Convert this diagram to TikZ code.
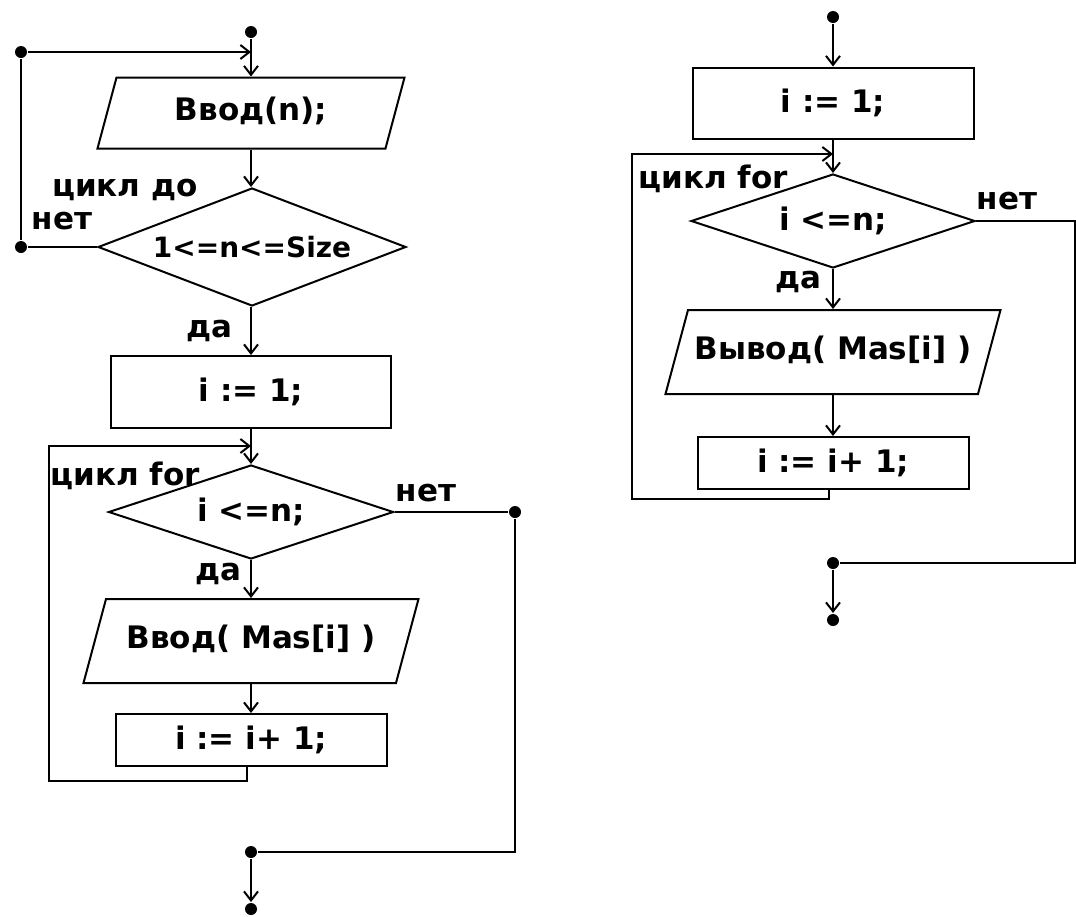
\documentclass[tikz,border=0pt]{standalone}
\usepackage{fontspec}
\setmainfont{DejaVu Sans}
\usetikzlibrary{shapes.geometric, arrows, arrows.meta}

\begin{document}
\begin{tikzpicture}[x = 1pt, y = -1pt, line width = 2pt,
        >={Straight Barb[length = 9pt, width = 14pt]},
        every node/.style = {font = \fontsize{31}{34}\selectfont\bfseries},
        box/.style = {shape = rectangle, draw = black, inner sep = 0pt},
        io/.style = {shape = trapezium, trapezium left angle = 75, trapezium right angle = 105,
            trapezium stretches body, draw = black, inner xsep = 0pt,
            text height = 23pt, text depth = 8pt},
        cond/.style = {shape = diamond, draw = black, inner sep = 0pt},
        dot/.style = {shape = circle, fill = black, inner sep = 0pt, minimum size = 12pt}]
            \useasboundingbox (0, 0) rectangle (1076, 916);

            % input loop
            \node [dot] (start1) at (251, 32) {};
            \node [io, minimum width = 307pt, inner ysep = 20pt] (readn) at (251, 113) {Ввод(n);};
            \node [cond, aspect = 2.6, minimum width = 308pt, minimum height = 118pt,
                font = \fontsize{28}{30}\selectfont\bfseries] (check) at (252, 247) {1<=n<=Size};
            \node [dot] (back0) at (21, 247) {};
            \node [dot] (back0t) at (21, 52) {};
            \coordinate (join0) at (251, 52);
            \node (untillbl) at (125, 190) {цикл до};
            \node (nolbl0) at (62, 221) {нет};
            \node (yes0) at (209, 331) {да};

            % for loop, reading
            \node [box, minimum width = 280pt, minimum height = 72pt] (init1) at (251, 392) {i := 1;};
            \coordinate (join1) at (251, 446);
            \node [cond, aspect = 3, minimum width = 285pt, minimum height = 94pt] (loop1) at (251, 512) {i <=n;};
            \node (forlbl1) at (125, 476) {цикл for};
            \node (nolbl1) at (426, 493) {нет};
            \node (yes1) at (218, 574) {да};
            \node [io, minimum width = 335pt, inner ysep = 26.5pt] (readmas) at (251, 641) {Ввод( Mas[i] )};
            \node [box, minimum width = 271pt, minimum height = 52pt] (inc1) at (251, 740) {i := i+ 1;};
            \coordinate (back1b) at (49, 781);
            \coordinate (back1t) at (49, 446);
            \node [dot] (exit1) at (515, 512) {};
            \node [dot] (merge1) at (251, 852) {};
            \node [dot] (end1) at (251, 909) {};

            % for loop, writing
            \node [dot] (start2) at (833, 17) {};
            \node [box, minimum width = 281pt, minimum height = 71pt] (init2) at (833, 103) {i := 1;};
            \coordinate (join2) at (833, 154);
            \node [cond, aspect = 3, minimum width = 284pt, minimum height = 94pt] (loop2) at (833, 221) {i <=n;};
            \node (forlbl2) at (713, 179) {цикл for};
            \node (nolbl2) at (1007, 201) {нет};
            \node (yes2) at (798, 282) {да};
            \node [io, minimum width = 335pt, inner ysep = 26.5pt] (outmas) at (833, 352) {Вывод( Mas[i] )};
            \node [box, minimum width = 271pt, minimum height = 52pt] (inc2) at (833, 463) {i := i+ 1;};
            \coordinate (back2b) at (632, 499);
            \coordinate (back2t) at (632, 154);
            \coordinate (exit2) at (1075, 221);
            \node [dot] (merge2) at (833, 563) {};
            \node [dot] (end2) at (833, 620) {};

            \draw [->] (start1) -- (readn);
            \draw [->] (back0t) -- (join0);
            \draw (check) -- (back0) -- (back0t);
            \draw [->] (readn) -- (readn |- check.north);
            \draw [->] (check.south -| init1) -- (init1);
            \draw [->] (init1) -- (loop1);
            \draw [->] ([xshift = -4pt]inc1.south) |- (back1b) -- (back1t) -- (join1);
            \draw [->] (loop1) -- (readmas);
            \draw [->] (readmas) -- (inc1);
            \draw (loop1) -- (exit1) |- (merge1);
            \draw [->] (merge1) -- (end1);

            \draw [->] (start2) -- (init2);
            \draw [->] (init2) -- (loop2);
            \draw [->] ([xshift = -4pt]inc2.south) |- (back2b) -- (back2t) -- (join2);
            \draw [->] (loop2) -- (outmas);
            \draw [->] (outmas) -- (inc2);
            \draw (loop2) -- (exit2) |- (merge2);
            \draw [->] (merge2) -- (end2);
        \end{tikzpicture}
\end{document}
